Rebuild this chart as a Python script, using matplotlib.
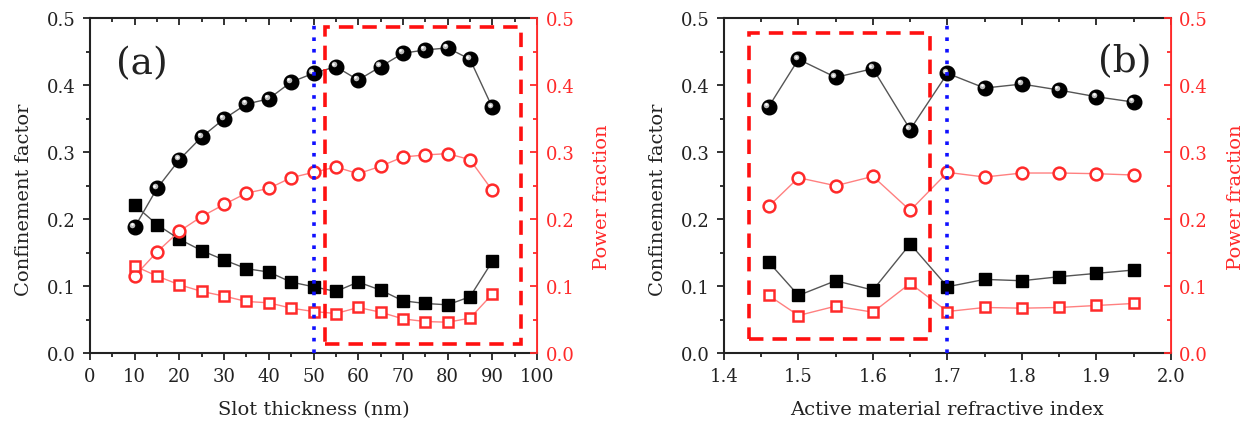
import matplotlib
matplotlib.use("Agg")
import matplotlib.pyplot as plt
from matplotlib.patches import Rectangle
from matplotlib.transforms import ScaledTranslation
from matplotlib.ticker import MultipleLocator, FormatStrFormatter

plt.rcParams['font.family'] = ['DejaVu Serif']

# ---------------- data ----------------
slot_thickness = [10, 15, 20, 25, 30, 35, 40, 45, 50, 55, 60, 65, 70, 75, 80, 85, 90]
a_conf_circle = [0.188, 0.246, 0.289, 0.323, 0.350, 0.372, 0.380, 0.405, 0.418, 0.428,
                 0.408, 0.428, 0.448, 0.453, 0.456, 0.439, 0.367]
a_conf_square = [0.221, 0.192, 0.170, 0.153, 0.139, 0.126, 0.121, 0.106, 0.099, 0.092,
                 0.106, 0.094, 0.078, 0.074, 0.072, 0.084, 0.137]
a_pow_circle = [0.115, 0.151, 0.182, 0.204, 0.222, 0.239, 0.246, 0.262, 0.270, 0.278,
                0.268, 0.279, 0.293, 0.296, 0.298, 0.289, 0.243]
a_pow_square = [0.130, 0.115, 0.102, 0.092, 0.085, 0.077, 0.075, 0.067, 0.062, 0.059,
                0.068, 0.061, 0.051, 0.047, 0.046, 0.052, 0.088]

refr_index = [1.46, 1.50, 1.55, 1.60, 1.65, 1.70, 1.75, 1.80, 1.85, 1.90, 1.95]
b_conf_circle = [0.368, 0.439, 0.412, 0.425, 0.334, 0.418, 0.396, 0.402, 0.393, 0.383, 0.375]
b_conf_square = [0.136, 0.086, 0.108, 0.094, 0.163, 0.099, 0.110, 0.108, 0.114, 0.119, 0.124]
b_pow_circle = [0.219, 0.262, 0.250, 0.264, 0.213, 0.270, 0.263, 0.269, 0.269, 0.268, 0.266]
b_pow_square = [0.086, 0.056, 0.070, 0.061, 0.104, 0.062, 0.068, 0.067, 0.068, 0.071, 0.074]

# annotation geometry (data coordinates)
a_vline = 50
a_box = (52.6, 0.0134, 96.3, 0.4875)
b_vline = 1.70
b_box = (1.4335, 0.0209, 1.677, 0.4777)

RED = '#ff2a2a'
INK = '#222222'
fig = plt.figure(figsize=(12.51, 4.31), dpi=100)


def sphere(ax, x, y, size=10.5):
    ax.plot(x, y, color='#555555', lw=1.0, zorder=2)
    ax.plot(x, y, ls='none', marker='o', ms=size, mfc='black', mec='black', zorder=3)
    off = ScaledTranslation(-1.6 / 72, 1.6 / 72, fig.dpi_scale_trans)
    ax.plot(x, y, ls='none', marker='o', ms=size * 0.38, mfc='#bbbbbb', mec='none',
            transform=ax.transData + off, zorder=4)
    off2 = ScaledTranslation(-2.0 / 72, 2.0 / 72, fig.dpi_scale_trans)
    ax.plot(x, y, ls='none', marker='o', ms=size * 0.18, mfc='white', mec='none',
            transform=ax.transData + off2, zorder=5)


def panel(rect, x, cc, cs, pc, ps, xlim, xmajor, xminor, xlabel, vline, box, tag, tagpos):
    ax = fig.add_axes(rect)
    ax2 = ax.twinx()
    for a in (ax, ax2):
        a.set_ylim(0, 0.5)
        a.set_xlim(*xlim)
    sphere(ax, x, cc)
    ax.plot(x, cs, color='#555555', lw=1.0, marker='s', ms=9, mfc='black', mec='black', zorder=3)
    ax2.plot(x, pc, color='#ff8080', lw=1.0, marker='o', ms=8.5, mfc='white', mec=RED, mew=1.8)
    ax2.plot(x, ps, color='#ff8080', lw=1.0, marker='s', ms=7.5, mfc='white', mec=RED, mew=1.8)

    ax2.axvline(vline, color='#1010ff', ls=(0, (1, 2.2)), lw=2.6, zorder=6)
    x0, y0, x1, y1 = box
    ax2.add_patch(Rectangle((x0, y0), x1 - x0, y1 - y0, fill=False, ec='#ff1010',
                            lw=2.6, ls=(0, (4, 2.5)), zorder=7))

    ax.xaxis.set_major_locator(MultipleLocator(xmajor))
    ax.xaxis.set_minor_locator(MultipleLocator(xminor))
    for a in (ax, ax2):
        a.yaxis.set_major_locator(MultipleLocator(0.1))
        a.yaxis.set_minor_locator(MultipleLocator(0.05))
        a.yaxis.set_major_formatter(FormatStrFormatter('%.1f'))
    ax.tick_params(axis='x', which='both', direction='out', bottom=True, top=False,
                   labelsize=13, colors=INK, width=1.3, pad=5)
    ax.tick_params(axis='x', which='major', length=5)
    ax.tick_params(axis='x', which='minor', length=3)
    ax.tick_params(axis='y', which='both', direction='out', left=True, right=False,
                   labelsize=13, colors=INK, width=1.3, pad=5)
    ax.tick_params(axis='y', which='major', length=5)
    ax.tick_params(axis='y', which='minor', length=3)
    # top ticks inward
    sec = ax.secondary_xaxis('top')
    sec.xaxis.set_major_locator(MultipleLocator(xmajor))
    sec.xaxis.set_minor_locator(MultipleLocator(xminor))
    sec.tick_params(axis='x', which='both', direction='in', labeltop=False, width=1.3,
                    colors=INK)
    sec.tick_params(axis='x', which='major', length=5)
    sec.tick_params(axis='x', which='minor', length=3)
    sec.spines['top'].set_visible(False)

    ax2.tick_params(axis='y', which='both', direction='in', right=True, labelsize=13,
                    colors=RED, width=1.3, pad=6)
    ax2.tick_params(axis='y', which='major', length=5)
    ax2.tick_params(axis='y', which='minor', length=3)
    for s in ('left', 'bottom', 'top'):
        ax.spines[s].set_color(INK)
        ax.spines[s].set_linewidth(1.5)
    ax.spines['right'].set_color(RED)
    ax2.spines['right'].set_color(RED)
    ax2.spines['right'].set_linewidth(1.3)
    for s in ('left', 'bottom', 'top'):
        ax2.spines[s].set_visible(False)

    ax.set_xlabel(xlabel, fontsize=14, color=INK)
    ax.xaxis.set_label_coords(0.5, -0.14)
    ax.set_ylabel('Confinement factor', fontsize=14, color=INK)
    ax.yaxis.set_label_coords(-0.128, 0.46)
    ax2.set_ylabel('Power fraction', fontsize=14, color=RED)
    ax2.yaxis.set_label_coords(1.125, 0.47)
    ax.text(tagpos[0], tagpos[1], tag, transform=ax.transAxes, fontsize=27,
            ha='center', va='center', color=INK)
    return ax, ax2


panel([0.0719, 0.1787, 0.3574, 0.7761], slot_thickness, a_conf_circle, a_conf_square,
      a_pow_circle, a_pow_square, (0, 100), 10, 5, 'Slot thickness (nm)',
      a_vline, a_box, '(a)', (0.116, 0.867))
panel([0.5787, 0.1787, 0.3573, 0.7761], refr_index, b_conf_circle, b_conf_square,
      b_pow_circle, b_pow_square, (1.4, 2.0), 0.1, 0.05, 'Active material refractive index',
      b_vline, b_box, '(b)', (0.897, 0.873))

fig.savefig('out.png', dpi=100)
